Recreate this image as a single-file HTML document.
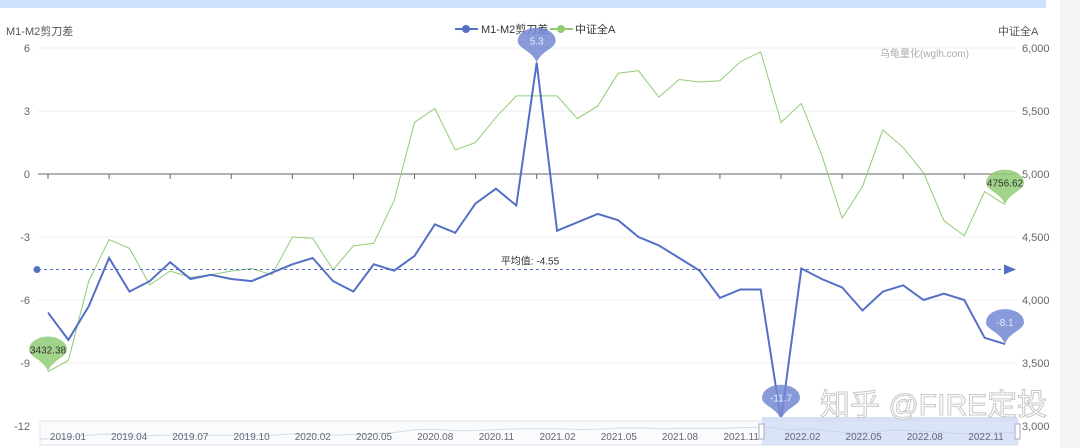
<!DOCTYPE html>
<html><head><meta charset="utf-8"><style>
html,body{margin:0;padding:0;background:#fff;}
body{width:1080px;height:448px;overflow:hidden;position:relative;font-family:"Liberation Sans","Noto Sans CJK SC",sans-serif;}
svg text{font-family:"Liberation Sans","Noto Sans CJK SC",sans-serif;}
</style></head><body>
<div style="position:absolute;left:0;top:0;width:1046px;height:8px;background:#cfe0fa"></div>
<div style="position:absolute;left:1060px;top:0;width:20px;height:448px;background:#f3f4f6"></div>
<svg id="chart" width="1080" height="448" style="position:absolute;left:0;top:0"></svg>
<script>
const categories=[];for(let y=2019;y<=2022;y++)for(let m=1;m<=12;m++)categories.push(y+'.'+String(m).padStart(2,'0'));
const spreadValues=[-6.6,-7.9,-6.3,-4.0,-5.6,-5.1,-4.2,-5.0,-4.8,-5.0,-5.1,-4.7,-4.3,-4.0,-5.1,-5.6,-4.3,-4.6,-3.9,-2.4,-2.8,-1.4,-0.7,-1.5,5.3,-2.7,-2.3,-1.9,-2.2,-3.0,-3.4,-4.0,-4.6,-5.9,-5.5,-5.5,-11.7,-4.5,-5.0,-5.4,-6.5,-5.6,-5.3,-6.0,-5.7,-6.0,-7.8,-8.1];
const indexValues=[3432.38,3520,4150,4480,4410,4120,4230,4180,4200,4230,4250,4200,4500,4490,4240,4430,4450,4790,5410,5520,5190,5250,5450,5620,5620,5620,5440,5540,5800,5820,5610,5750,5730,5740,5890,5970,5410,5560,5150,4650,4900,5350,5210,5010,4630,4510,4860,4756.62];
const leftTicks=[6,3,0,-3,-6,-9,-12];
const rightTicks=[6000,5500,5000,4500,4000,3500,3000];
const sliderLabels=['2019.01','2019.04','2019.07','2019.10','2020.02','2020.05','2020.08','2020.11','2021.02','2021.05','2021.08','2021.11','2022.02','2022.05','2022.08','2022.11'];
const meanValue=-4.55;

const NS='http://www.w3.org/2000/svg';
const svg=document.getElementById('chart');
function el(tag,attrs,parent){const e=document.createElementNS(NS,tag);for(const k in attrs)e.setAttribute(k,attrs[k]);(parent||svg).appendChild(e);return e;}
const X0=48,X1=1005,PL=38,PR=1016;
const xs=i=>X0+(X1-X0)*i/(categories.length-1);
const yL=v=>174-v*21;
const yR=v=>426-(v-3000)*0.126;

// grid + left ticks
leftTicks.forEach(t=>{
  const g=el('line',{x1:PL,x2:PR,y1:yL(t),y2:yL(t),stroke:t===0?'#666':'#eceef3','stroke-width':1});
  
  const tx=el('text',{x:30,y:yL(t)+4,'text-anchor':'end','font-size':11,fill:'#666'});tx.textContent=t;
  
});
rightTicks.forEach(t=>{
  const tx=el('text',{x:1022,y:yR(t)+4,'font-size':11,fill:'#666'});tx.textContent=t.toLocaleString('en-US');
  
});
// small x ticks on zero line
categories.forEach((c,i)=>{if(i%3===0){const l=el('line',{x1:xs(i),x2:xs(i),y1:174,y2:179,stroke:'#666'});}});

let t=el('text',{x:6,y:35,'font-size':11,fill:'#555'});t.textContent='M1-M2剪刀差';
t=el('text',{x:998,y:35,'font-size':11,fill:'#555'});t.textContent='中证全A';
t=el('text',{x:880,y:57,'font-size':10,fill:'#aaa'});t.textContent='乌龟量化(wglh.com)';

// legend
let lg=el('g',{});
el('line',{x1:455,x2:478,y1:29,y2:29,stroke:'#5470c6','stroke-width':2},lg);el('circle',{cx:466,cy:29,r:4,fill:'#5470c6'},lg);
t=el('text',{x:481,y:33,'font-size':11,fill:'#333'},lg);t.textContent='M1-M2剪刀差';
lg=el('g',{});
el('line',{x1:550,x2:573,y1:29,y2:29,stroke:'#91cc75','stroke-width':2},lg);el('circle',{cx:561,cy:29,r:4,fill:'#91cc75'},lg);
t=el('text',{x:575,y:33,'font-size':11,fill:'#333'},lg);t.textContent='中证全A';

// series
let p=el('polyline',{points:indexValues.map((v,i)=>xs(i)+','+yR(v)).join(' '),fill:'none',stroke:'#91cc75','stroke-width':1});

p=el('polyline',{points:spreadValues.map((v,i)=>xs(i)+','+yL(v)).join(' '),fill:'none',stroke:'#5470c6','stroke-width':2});


// mean line
const my=yL(meanValue);
let ml=el('line',{x1:38,x2:1008,y1:my,y2:my,stroke:'#5470c6','stroke-dasharray':'3,3','stroke-width':1});

el('circle',{cx:37,cy:my,r:3.5,fill:'#5470c6'});
el('path',{d:`M1004 ${my-5} L1016 ${my} L1004 ${my+5} Z`,fill:'#5470c6'});
t=el('text',{x:530,y:my-5,'text-anchor':'middle','font-size':10,fill:'#333'});t.textContent='平均值: '+meanValue;


function pin(x,y,label,color,name){
  const g=el('g',{});
  const cy=y-22;
  el('path',{d:`M${x} ${y} C${x-4} ${cy+10} ${x-19} ${cy+8} ${x-19} ${cy} A19 13 0 1 1 ${x+19} ${cy} C${x+19} ${cy+8} ${x+4} ${cy+10} ${x} ${y} Z`,fill:color,opacity:0.85},g);
  const tx=el('text',{x:x,y:cy+4,'text-anchor':'middle','font-size':10,fill:color==='#91cc75'?'#333':'#e8ecff'},g);tx.textContent=label;
}
let mi=0,ni=0;spreadValues.forEach((v,i)=>{if(v>spreadValues[mi])mi=i;if(v<spreadValues[ni])ni=i;});
pin(xs(mi),yL(spreadValues[mi]),String(spreadValues[mi]),'#7488d4','max-pin');
pin(xs(ni),yL(spreadValues[ni]),String(spreadValues[ni]),'#7488d4','min-pin');
const li=spreadValues.length-1;
pin(xs(li),yL(spreadValues[li]),String(spreadValues[li]),'#7488d4','last-spread-pin');
pin(xs(0),yR(indexValues[0]),String(indexValues[0]),'#91cc75','first-index-pin');
pin(xs(li),yR(indexValues[li]),String(indexValues[li]),'#91cc75','last-index-pin');

// slider
const sg=el('g',{});
el('rect',{x:40,y:421,width:978,height:24,fill:'#fafbfd',stroke:'#dfe4ee'},sg);
el('polyline',{points:indexValues.map((v,i)=>(40+978*i/(indexValues.length-1))+','+(441-(v-3000)/3000*14)).join(' '),fill:'none',stroke:'#d5dcea'},sg);
el('rect',{x:762,y:421,width:256,height:24,fill:'#bfd0f3',opacity:0.55},sg);
el('rect',{x:762,y:417,width:256,height:5,fill:'#d6e0f5'},sg);
el('rect',{x:759,y:424,width:5,height:15,fill:'#fff',stroke:'#aab'},sg);
el('rect',{x:1015,y:424,width:5,height:15,fill:'#fff',stroke:'#aab'},sg);
sliderLabels.forEach((s,i)=>{const tx=el('text',{x:68+i*61.2,y:440,'text-anchor':'middle','font-size':10,fill:'#667'},sg);tx.textContent=s;});

t=el('text',{x:820,y:415,'font-size':30,fill:'#fff',stroke:'#c8c8c8','stroke-width':1});t.textContent='知乎 @FIRE定投';

</script>
</body></html>
